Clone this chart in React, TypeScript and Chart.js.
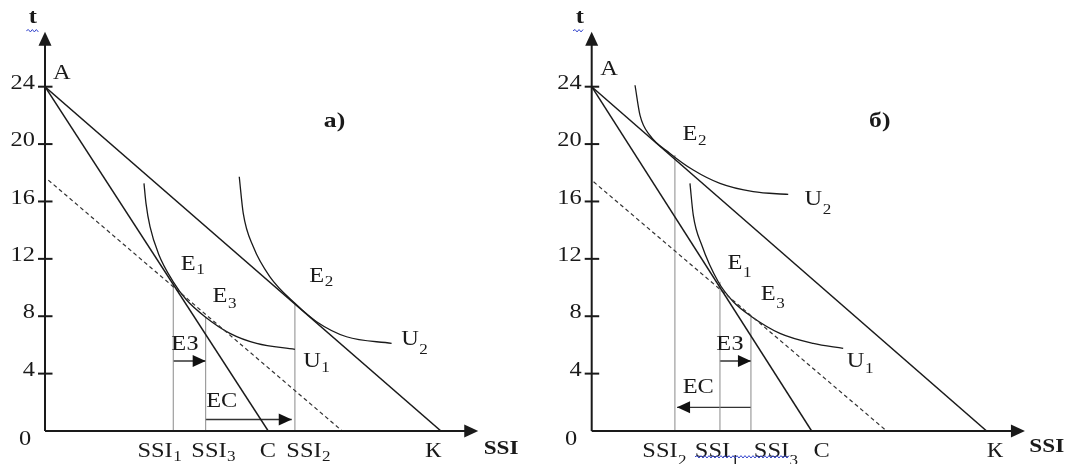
import React, { useEffect, useRef } from "react";
import { Chart, registerables } from "chart.js";

Chart.register(...registerables);

// ---------- scale geometry (pixels per unit) ----------
const PX = 14.346;
const X_MAX = 31;
const Y_MAX = 28;
const STRETCH = 1.22; // the reference text is horizontally widened

// ---------- shared axis data ----------
const yTickValues = [4, 8, 12, 16, 20, 24];
const axisXEnd = 30.2;
const axisYEnd = 27.83;

// ---------- panel a) ----------
const lineAK_a = [[0, 24], [27.6, 0]];
const lineAC_a = [[0, 24], [15.56, 0]];
const dashed_a = [[0.23, 17.49], [20.72, 0]];
const U1_a = [
  [6.9, 17.26], [7.04, 15.87], [7.32, 14.24], [7.9, 12.38], [8.94, 10.4],
  [9.87, 9.13], [11.15, 7.97], [12.89, 6.81], [14.75, 6.11], [17.42, 5.69],
];
const U2_a = [
  [13.54, 17.72], [13.82, 15.17], [14.52, 12.84], [15.68, 10.75], [17.42, 8.9],
  [18.93, 7.62], [21.02, 6.57], [24.16, 6.11],
];
const verticals_a = [[8.94, 10.3], [11.2, 7.97], [17.42, 8.9]];
const arrows_a = [
  { from: 8.94, to: 11.2, y: 4.88 },
  { from: 11.2, to: 17.2, y: 0.8 },
];

// ---------- panel б) ----------
const lineAK_b = [[0, 24], [27.53, 0]];
const lineAC_b = [[0, 24], [15.33, 0]];
const dashed_b = [[0.13, 17.37], [20.56, 0]];
const U1_b = [
  [6.85, 17.26], [7.08, 15.05], [7.67, 12.96], [8.82, 10.4], [9.87, 9.01],
  [11.15, 7.97], [13.12, 6.81], [15.44, 6.11], [17.53, 5.76],
];
const U2_b = [
  [3.02, 24.1], [3.37, 22.0], [4.06, 20.6], [5.46, 19.35], [7.08, 18.19],
  [8.94, 17.26], [11.26, 16.68], [13.7, 16.49],
];
const verticals_b = [[5.8, 19.24], [8.94, 10.4], [11.1, 7.97]];
const arrows_b = [
  { from: 8.94, to: 11.1, y: 4.88 },
  { from: 11.1, to: 5.95, y: 1.65 },
];

// ---------- text labels (data units) ----------
type Lbl = { text: string; sub?: string; x: number; y: number; font?: string; subDy?: number };
const F = '"Liberation Serif", "Times New Roman", serif';
const labels_a: Lbl[] = [
  { text: "А", x: 1.18, y: 24.93 },
  { text: "а)", x: 20.18, y: 21.56, font: `bold 21px ${F}` },
  { text: "E", sub: "1", x: 9.99, y: 11.57, subDy: 5 },
  { text: "E", sub: "3", x: 12.2, y: 9.36, subDy: 8 },
  { text: "E", sub: "2", x: 18.94, y: 10.76, subDy: 6 },
  { text: "ЕЗ", x: 9.76, y: 5.99 },
  { text: "ЕС", x: 12.32, y: 2.04 },
  { text: "U", sub: "1", x: 18.61, y: 4.83, subDy: 7 },
  { text: "U", sub: "2", x: 25.44, y: 6.34, subDy: 10 },
  { text: "SSI", sub: "1", x: 7.67, y: -1.44, subDy: 6 },
  { text: "SSI", sub: "3", x: 11.43, y: -1.44, subDy: 6 },
  { text: "С", x: 15.54, y: -1.44 },
  { text: "SSI", sub: "2", x: 18.05, y: -1.44, subDy: 6 },
  { text: "К", x: 27.05, y: -1.44 },
  { text: "SSI", x: 31.79, y: -1.25, font: `bold 19px ${F}` },
  { text: "0", x: -1.39, y: -0.63 },
  { text: "t", x: -0.85, y: 28.77, font: `bold 20px ${F}` },
];
const labels_b: Lbl[] = [
  { text: "А", x: 1.21, y: 25.16 },
  { text: "б)", x: 20.08, y: 21.56, font: `bold 21px ${F}` },
  { text: "E", sub: "2", x: 6.85, y: 20.63, subDy: 6 },
  { text: "U", sub: "2", x: 15.45, y: 16.1, subDy: 10 },
  { text: "E", sub: "1", x: 9.99, y: 11.69, subDy: 10 },
  { text: "E", sub: "3", x: 12.31, y: 9.48, subDy: 9 },
  { text: "ЕЗ", x: 9.64, y: 5.99 },
  { text: "U", sub: "1", x: 18.4, y: 4.83, subDy: 8 },
  { text: "ЕС", x: 7.43, y: 2.98 },
  { text: "SSI", sub: "2", x: 4.76, y: -1.44, subDy: 10 },
  { text: "SSI", sub: "1", x: 8.42, y: -1.44, subDy: 10 },
  { text: "SSI", sub: "3", x: 12.53, y: -1.44, subDy: 10 },
  { text: "С", x: 16.03, y: -1.44 },
  { text: "К", x: 28.11, y: -1.44 },
  { text: "SSI", x: 31.72, y: -1.09, font: `bold 19px ${F}` },
  { text: "0", x: -1.44, y: -0.63 },
  { text: "t", x: -0.83, y: 28.77, font: `bold 20px ${F}` },
];
// spell-check style wavy underlines [x1, x2, y] in data units
const waves_a = [[-1.3, -0.4, 27.9]];
const waves_b = [[-1.3, -0.55, 27.9], [7.2, 13.8, -1.8]];

const toXY = (arr: number[][]) => arr.map(([x, y]) => ({ x, y }));

const INK = "#1a1a1a";

function lineDs(data: number[][], extra: any = {}) {
  return {
    data: toXY(data),
    showLine: true,
    borderColor: INK,
    borderWidth: 1.5,
    pointRadius: 0,
    fill: false,
    ...extra,
  };
}

function buildDatasets(p: any) {
  const ds: any[] = [
    lineDs(p.ak),
    lineDs(p.ac),
    lineDs(p.dashed, { borderDash: [4, 3], borderWidth: 1.2, borderColor: "#333" }),
    lineDs(p.u1, { cubicInterpolationMode: "monotone", borderWidth: 1.3 }),
    lineDs(p.u2, { cubicInterpolationMode: "monotone", borderWidth: 1.3 }),
  ];
  p.verticals.forEach(([x, top]: number[]) =>
    ds.push(lineDs([[x, 0], [x, top]], { borderColor: "#8a8a8a", borderWidth: 1 }))
  );
  p.arrows.forEach((a: any) =>
    ds.push(lineDs([[a.from, a.y], [a.to, a.y]], { borderColor: "#333", borderWidth: 1.4 }))
  );
  return ds;
}

function tri(ctx: CanvasRenderingContext2D, tipX: number, tipY: number, dir: string, len: number, half: number) {
  ctx.beginPath();
  if (dir === "right") {
    ctx.moveTo(tipX, tipY);
    ctx.lineTo(tipX - len, tipY - half);
    ctx.lineTo(tipX - len, tipY + half);
  } else if (dir === "left") {
    ctx.moveTo(tipX, tipY);
    ctx.lineTo(tipX + len, tipY - half);
    ctx.lineTo(tipX + len, tipY + half);
  } else {
    ctx.moveTo(tipX, tipY);
    ctx.lineTo(tipX - half, tipY + len);
    ctx.lineTo(tipX + half, tipY + len);
  }
  ctx.closePath();
  ctx.fill();
}

function wideText(ctx: CanvasRenderingContext2D, text: string, x: number, y: number, align: CanvasTextAlign) {
  ctx.save();
  ctx.translate(x, y);
  ctx.scale(STRETCH, 1);
  ctx.textAlign = align;
  ctx.fillText(text, 0, 0);
  ctx.restore();
}

const decoPlugin = {
  id: "panelDeco",
  afterDatasetsDraw(chart: any) {
    const cfg = chart.options.plugins.panelDeco;
    if (!cfg) return;
    const ctx: CanvasRenderingContext2D = chart.ctx;
    const xs = chart.scales.x;
    const ys = chart.scales.y;
    const X = (v: number) => xs.getPixelForValue(v);
    const Y = (v: number) => ys.getPixelForValue(v);
    ctx.save();
    ctx.fillStyle = INK;
    ctx.strokeStyle = INK;
    // axes
    ctx.lineWidth = 2;
    ctx.beginPath();
    ctx.moveTo(X(0), Y(0));
    ctx.lineTo(X(axisXEnd) - 10, Y(0));
    ctx.moveTo(X(0), Y(0));
    ctx.lineTo(X(0), Y(axisYEnd) + 10);
    ctx.stroke();
    tri(ctx, X(axisXEnd), Y(0), "right", 14, 6.5);
    tri(ctx, X(0), Y(axisYEnd), "up", 14, 6.5);
    // y ticks
    ctx.lineWidth = 2;
    ctx.font = `20px ${F}`;
    ctx.textBaseline = "middle";
    yTickValues.forEach((v) => {
      const py = Y(v);
      ctx.beginPath();
      ctx.moveTo(X(0) - 7, py);
      ctx.lineTo(X(0) + 7.5, py);
      ctx.stroke();
      wideText(ctx, String(v), X(0) - 10, py - 3, "right");
    });
    // arrowheads of effect arrows
    cfg.arrows.forEach((a: any) => {
      ctx.fillStyle = "#111";
      tri(ctx, X(a.to), Y(a.y), a.to > a.from ? "right" : "left", 13, 6);
    });
    // labels
    ctx.fillStyle = INK;
    ctx.textBaseline = "middle";
    cfg.labels.forEach((l: Lbl) => {
      const px = X(l.x);
      const py = Y(l.y);
      ctx.font = l.font || `20px ${F}`;
      wideText(ctx, l.text, px, py, "center");
      if (l.sub) {
        const w = ctx.measureText(l.text).width * STRETCH;
        ctx.font = `14px ${F}`;
        wideText(ctx, l.sub, px + w / 2 + 0.5, py + (l.subDy ?? 6), "left");
      }
    });
    // wavy underlines
    ctx.strokeStyle = "#3344cc";
    ctx.lineWidth = 1;
    cfg.waves.forEach(([x1, x2, yv]: number[]) => {
      const a = X(x1), b = X(x2), py = Y(yv);
      ctx.beginPath();
      let up = true;
      ctx.moveTo(a, py);
      for (let px = a + 2; px <= b; px += 2) {
        ctx.lineTo(px, py + (up ? -1.2 : 1.2));
        up = !up;
      }
      ctx.stroke();
    });
    ctx.restore();
  },
};

function makeChart(canvas: HTMLCanvasElement, panel: any, padLeft: number) {
  const bottom = 464 - 431;
  const top = 431 - Y_MAX * PX;
  const right = 1075 - padLeft - X_MAX * PX;
  return new Chart(canvas, {
    type: "scatter",
    data: { datasets: buildDatasets(panel) },
    options: {
      animation: false,
      responsive: false,
      devicePixelRatio: 1,
      events: [],
      layout: { padding: { left: padLeft, right, top, bottom } },
      scales: {
        x: { type: "linear", min: 0, max: X_MAX, display: false },
        y: { type: "linear", min: 0, max: Y_MAX, display: false },
      },
      plugins: {
        legend: { display: false },
        tooltip: { enabled: false },
        panelDeco: { labels: panel.labels, arrows: panel.arrows, waves: panel.waves },
      } as any,
    },
    plugins: [decoPlugin],
  } as any);
}

export default function App() {
  const refA = useRef<HTMLCanvasElement>(null);
  const refB = useRef<HTMLCanvasElement>(null);
  useEffect(() => {
    const a = makeChart(
      refA.current!,
      { ak: lineAK_a, ac: lineAC_a, dashed: dashed_a, u1: U1_a, u2: U2_a, verticals: verticals_a, arrows: arrows_a, labels: labels_a, waves: waves_a },
      45
    );
    const b = makeChart(
      refB.current!,
      { ak: lineAK_b, ac: lineAC_b, dashed: dashed_b, u1: U1_b, u2: U2_b, verticals: verticals_b, arrows: arrows_b, labels: labels_b, waves: waves_b },
      591.7
    );
    return () => {
      a.destroy();
      b.destroy();
    };
  }, []);
  const cs: React.CSSProperties = { position: "absolute", left: 0, top: 0, width: 1075, height: 464 };
  return (
    <div style={{ position: "fixed", left: 0, top: 0, width: 1075, height: 464, background: "#fff" }}>
      <canvas ref={refA} width={1075} height={464} style={cs} />
      <canvas ref={refB} width={1075} height={464} style={cs} />
    </div>
  );
}
